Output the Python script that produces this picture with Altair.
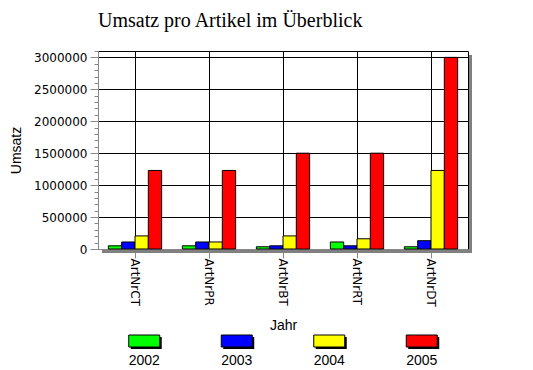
import altair as alt
import pandas as pd

articles = ["ArtNrCT", "ArtNrPR", "ArtNrBT", "ArtNrRT", "ArtNrDT"]
years = ["2002", "2003", "2004", "2005"]
u2002 = [50000, 50000, 35000, 110000, 35000]
u2003 = [110000, 110000, 50000, 50000, 130000]
u2004 = [205000, 110000, 205000, 160000, 1230000]
u2005 = [1230000, 1230000, 1500000, 1500000, 3000000]
colors = ["#00FF00", "#0000FF", "#FFFF00", "#FF0000"]

rows = []
for yr, vals in zip(years, [u2002, u2003, u2004, u2005]):
    for a, v in zip(articles, vals):
        rows.append({"Artikel": a, "Jahr": yr, "Umsatz": v})
df = pd.DataFrame(rows)
legend_df = pd.DataFrame({"Jahr": years})

W, H = 370, 198
color_scale = alt.Scale(domain=years, range=colors)

bars = alt.Chart(df).mark_bar(stroke="black", strokeWidth=1).encode(
    x=alt.X("Artikel:N", sort=articles,
            scale=alt.Scale(paddingInner=0.28, paddingOuter=0.14),
            axis=alt.Axis(title="Jahr", labelAngle=90, bandPosition=0.5,
                          grid=True, gridColor="black", gridOpacity=1,
                          tickSize=9, labelPadding=0,
                          labelFont="DejaVu Sans", labelFontSize=12,
                          titleFont="Liberation Sans", titleFontSize=14,
                          titleFontWeight="normal", titlePadding=12)),
    xOffset=alt.XOffset("Jahr:N", sort=years, scale=alt.Scale(paddingInner=0, paddingOuter=0)),
    y=alt.Y("Umsatz:Q",
            scale=alt.Scale(domain=[0, 3100000], nice=False),
            axis=alt.Axis(title="Umsatz",
                          values=list(range(0, 3100001, 100000)),
                          format="d", labelOverlap=False,
                          labelExpr="datum.value % 500000 === 0 ? datum.label : ''",
                          tickSize={"condition": {"test": "datum.value % 500000 === 0", "value": 8}, "value": 4},
                          gridOpacity={"condition": {"test": "datum.value % 500000 === 0 && datum.value > 0", "value": 1}, "value": 0},
                          grid=True, gridColor="black",
                          labelPadding=3,
                          labelFont="DejaVu Sans", labelFontSize=12,
                          titleFont="Liberation Sans", titleFontSize=14,
                          titleFontWeight="normal", titlePadding=10)),
    color=alt.Color("Jahr:N", scale=color_scale, legend=None),
)

one = pd.DataFrame({"k": [0]})
shadow_bottom = alt.Chart(one).mark_rect(color="#808080").encode(
    x=alt.value(4), x2=alt.value(W + 4), y=alt.value(H + 1), y2=alt.value(H + 4))
shadow_right = alt.Chart(one).mark_rect(color="#808080").encode(
    x=alt.value(W + 1), x2=alt.value(W + 4), y=alt.value(4), y2=alt.value(H + 4))

main = alt.layer(shadow_bottom, shadow_right, bars).properties(
    width=W, height=H,
    title=alt.TitleParams("Umsatz pro Artikel im Überblick", anchor="start", frame="group",
                          font="Liberation Serif", fontSize=20, fontWeight="normal",
                          color="black", offset=14),
    view=alt.ViewBackground(stroke="black", strokeWidth=1),
)

lx = alt.X("Jahr:N", sort=years, axis=None,
           scale=alt.Scale(paddingInner=0.665, paddingOuter=0.3325))
leg_shadow = alt.Chart(legend_df).mark_rect(color="black").encode(
    x=lx, xOffset=alt.value(2), y=alt.value(2), y2=alt.value(14))
leg_sw = alt.Chart(legend_df).mark_rect(stroke="black", strokeWidth=1).encode(
    x=lx, y=alt.value(0), y2=alt.value(12),
    color=alt.Color("Jahr:N", scale=color_scale, legend=None))
leg_txt = alt.Chart(legend_df).mark_text(baseline="top", font="Liberation Sans",
                                         fontSize=14, color="black").encode(
    x=lx, y=alt.value(19), text="Jahr:N")
legend = alt.layer(leg_shadow, leg_sw, leg_txt).properties(
    width=W, height=32, view=alt.ViewBackground(strokeOpacity=0))

chart = alt.vconcat(main, legend, spacing=1).properties(
    padding={"left": 1, "top": 2, "right": 5, "bottom": 0}
).configure_axis(
    domainColor="black", tickColor="black", labelColor="black", titleColor="black",
).configure(background="white")

chart.save("out.html", embed_options={"renderer": "svg", "actions": False})
